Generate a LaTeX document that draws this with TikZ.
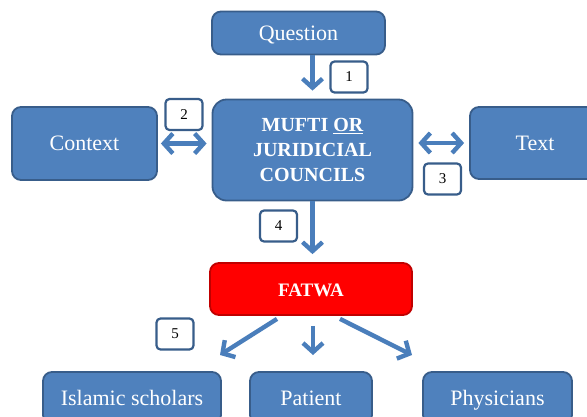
\documentclass[tikz,border=0pt]{standalone}
\usepackage{fontspec}
\setmainfont{Liberation Serif}
\usetikzlibrary{arrows.meta, positioning, calc}
\definecolor{box-blue}{RGB}{79,129,189}
\definecolor{box-edge}{RGB}{56,93,138}
\definecolor{arrow-blue}{RGB}{74,126,187}
\definecolor{fatwa-red}{RGB}{255,0,0}
\definecolor{fatwa-edge}{RGB}{192,0,0}

\begin{document}
\begin{tikzpicture}[
    x=1pt, y=-1pt,
    bluebox/.style={rectangle, draw=box-edge, line width=1.8pt, rounded corners=9pt, fill=box-blue, text=white, align=center, font=\fontsize{22}{26}\selectfont, inner sep=0pt},
    linebox/.style={bluebox, text height=17pt, text depth=3pt},
    numbox/.style={rectangle, draw=box-edge, line width=2.2pt, rounded corners=4pt, fill=white, minimum width=37pt, minimum height=31pt, font=\fontsize{15}{18}\selectfont, inner sep=0pt},
    arrow/.style={-{Straight Barb[length=9pt, width=20pt]}, line width=4.4pt, color=arrow-blue},
    twoway/.style={arrow, {Straight Barb[length=9pt, width=20pt]}-{Straight Barb[length=9pt, width=20pt]}}
]
    \useasboundingbox (0,0) rectangle (587,416);

    \node[linebox, minimum width=173pt, minimum height=43pt] (question) at (298.5,33) {Question};
    \node[bluebox, minimum width=200pt, minimum height=101pt, rounded corners=14pt, font=\fontsize{20}{25}\selectfont\bfseries] (mufti) at (312.5,150) {MUFTI \underline{OR}\\JURIDICIAL\\COUNCILS};
    \node[linebox, minimum width=145pt, minimum height=73pt] (context) at (84.5,143.5) {Context};
    \node[linebox, minimum width=130pt, minimum height=72pt] (textbox) at (535,143) {Text};
    \node[linebox, minimum width=202pt, minimum height=52pt, fill=fatwa-red, draw=fatwa-edge, font=\fontsize{19}{23}\selectfont\bfseries] (fatwa) at (311,289) {FATWA};

    \node[linebox, minimum width=178pt, minimum height=52pt] (scholars) at (132,398) {Islamic scholars};
    \node[linebox, minimum width=122pt, minimum height=52pt] (patient) at (311,398) {Patient};
    \node[linebox, minimum width=149pt, minimum height=52pt] (physicians) at (497.5,398) {Physicians};

    % numbered steps
    \node[numbox] (n1) at (349,77) {1};
    \node[numbox] (n2) at (184,114.5) {2};
    \node[numbox] (n3) at (442.5,179) {3};
    \node[numbox] (n4) at (278.5,226) {4};
    \node[numbox] (n5) at (175,334) {5};

    \draw[arrow, shorten >=8pt] (mufti.north |- question.south) -- (mufti.north);
    \draw[twoway, shorten <=3pt, shorten >=5pt] (context.east) -- (context.east -| mufti.west);
    \draw[twoway, shorten <=5pt, shorten >=5pt] (mufti.east |- textbox.west) -- (textbox.west);
    \draw[arrow, shorten >=8pt] (mufti.south) -- (mufti.south |- fatwa.north);

    % spread of the fatwa
    \coordinate (tip-left) at (220,355);
    \coordinate (tip-mid) at (313,355);
    \coordinate (tip-right) at (412,355);
    \draw[arrow] ([xshift=-34pt, yshift=-3pt]fatwa.south) -- (tip-left);
    \draw[arrow] ([xshift=2pt, yshift=-10pt]fatwa.south) -- (tip-mid);
    \draw[arrow] ([xshift=29pt, yshift=-3pt]fatwa.south) -- (tip-right);
\end{tikzpicture}
\end{document}
